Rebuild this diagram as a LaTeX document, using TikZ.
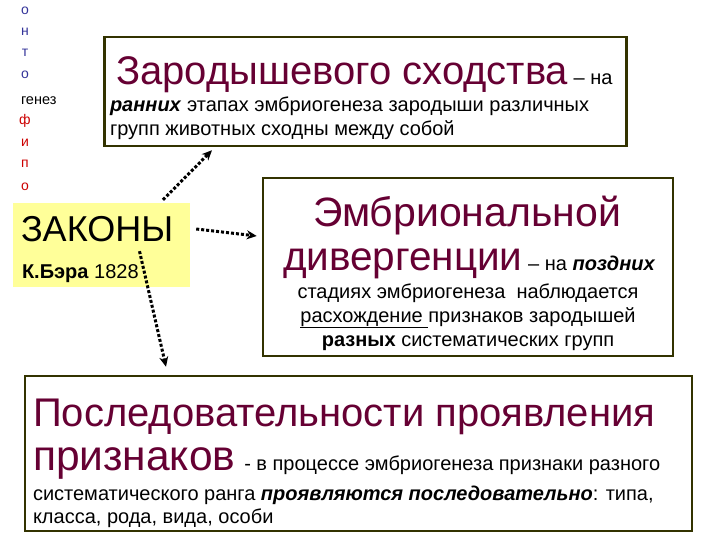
\documentclass[tikz,border=0pt]{standalone}
\usepackage{fontspec}
\setmainfont{Liberation Sans}
\usetikzlibrary{arrows.meta}
\definecolor{maroon}{HTML}{660033}
\definecolor{boxline}{HTML}{333300}
\definecolor{lawyellow}{HTML}{FFFF99}
\definecolor{ontoblue}{HTML}{333399}
\definecolor{phylored}{HTML}{CC0000}
\newcommand{\fs}[1]{\fontsize{#1}{#1}\selectfont}
\begin{document}
\begin{tikzpicture}[x=1pt,y=-1pt,
  box/.style={draw=boxline,line width=2.5pt,fill=white,inner sep=0pt},
  lawbox/.style={fill=lawyellow,draw=none,inner sep=0pt},
  txt/.style={inner sep=0pt,outer sep=0pt,anchor=base west},
  ctxt/.style={inner sep=0pt,outer sep=0pt,anchor=base},
  letter/.style={inner sep=0pt,anchor=base,font=\fs{14}},
  dotarr/.style={line width=3pt,dash pattern=on 3pt off 2pt,-{Stealth[length=10pt,width=9pt]}}]
\useasboundingbox (0,0) rectangle (720,540);
% left column
\node[letter,text=ontoblue] (l1) at (25,15) {о};
\node[letter,text=ontoblue] (l2) at (25,36) {н};
\node[letter,text=ontoblue] (l3) at (25,57) {т};
\node[letter,text=ontoblue] (l4) at (25,79) {о};
\node[txt,font=\fs{14.5}] (l5) at (21,105) {генез};
\node[letter,text=phylored] (l6) at (25,125) {ф};
\node[letter,text=phylored] (l7) at (25,147) {и};
\node[letter,text=phylored] (l8) at (25,168) {п};
\node[letter,text=phylored] (l9) at (25,191) {о};
% boxes
\node[box,minimum width=522pt,minimum height=109pt] (top) at (365.5,91.5) {};
\node[lawbox,minimum width=177pt,minimum height=84pt] (zak) at (101.5,245) {};
\node[box,minimum width=410pt,minimum height=178pt] (mid) at (468,267) {};
\node[box,minimum width=667pt,minimum height=155pt] (bot) at (358.5,453.5) {};
% top box text
\node[txt] (t1) at (116,85) {\fs{40}\color{maroon}Зародышевого сходства\fs{20}\color{black}\ – на};
\node[txt,font=\fs{20}] (t2) at (110,112) {\textbf{\textit{ранних}} этапах эмбриогенеза зародыши различных};
\node[txt,font=\fs{20}] (t3) at (110,136) {групп животных сходны между собой};
% laws
\node[txt,font=\fs{36}] (z1) at (21,241) {ЗАКОНЫ};
\node[txt,font=\fs{20}] (z2) at (22,278) {\textbf{К.Бэра} 1828};
% middle box text
\node[ctxt,text=maroon,font=\fs{41}] (m1) at (467,226) {Эмбриональной};
\node[txt] (m2) at (283,270) {\fs{40.5}\color{maroon}дивергенции\fs{20}\color{black}\ – на \textbf{\textit{поздних}}};
\node[ctxt,font=\fs{20}] (m3) at (468,298) {стадиях эмбриогенеза\ \ наблюдается};
\node[ctxt,font=\fs{20}] (m4) at (468,322) {\underline{расхождение\ }признаков зародышей};
\node[ctxt,font=\fs{20}] (m5) at (468,346) {\textbf{разных} систематических групп};
% bottom box text
\node[txt] (b1) at (33,426) {\fs{40}\color{maroon}Последовательности проявления};
\node[txt] (b2) at (33,470) {\fs{42.5}\color{maroon}признаков\fs{20}\color{black}\hspace{9pt}- в процессе эмбриогенеза признаки разного};
\node[txt,font=\fs{20}] (b3) at (33,500) {систематического ранга \textbf{\textit{проявляются последовательно}}: типа,};
\node[txt,font=\fs{20}] (b4) at (33,523) {класса, рода, вида, особи};
% arrows
\draw[dotarr] ([shift={(61.5,-3)}]zak.north) -- ([shift={(-153.5,3)}]top.south);
\draw[dotarr] ([shift={(6,-16)}]zak.east) -- ([shift={(-5,-31)}]mid.west);
\draw[dotarr] ([shift={(38,-36)}]zak.south) -- ([shift={(-192.5,-8)}]bot.north);
\end{tikzpicture}
\end{document}
